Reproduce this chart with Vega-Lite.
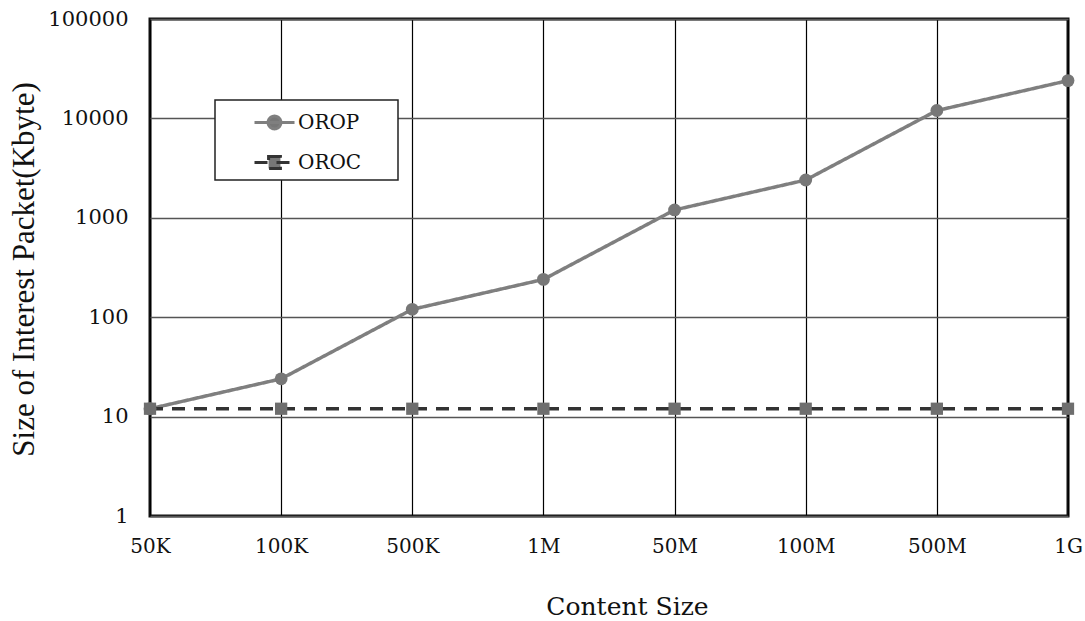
{
  "$schema": "https://vega.github.io/schema/vega-lite/v6.json",
  "width": 918,
  "height": 497,
  "autosize": {"type": "none"},
  "padding": {"left": 150, "top": 19, "right": 17, "bottom": 105},
  "background": "white",
  "config": {
    "view": {"stroke": "#111", "strokeWidth": 3},
    "font": "DejaVu Serif"
  },
  "data": {
    "values": [
      {"size": "50K", "series": "OROP", "kbyte": 12},
      {"size": "100K", "series": "OROP", "kbyte": 24},
      {"size": "500K", "series": "OROP", "kbyte": 120},
      {"size": "1M", "series": "OROP", "kbyte": 240},
      {"size": "50M", "series": "OROP", "kbyte": 1200},
      {"size": "100M", "series": "OROP", "kbyte": 2400},
      {"size": "500M", "series": "OROP", "kbyte": 12000},
      {"size": "1G", "series": "OROP", "kbyte": 24000},
      {"size": "50K", "series": "OROC", "kbyte": 12},
      {"size": "100K", "series": "OROC", "kbyte": 12},
      {"size": "500K", "series": "OROC", "kbyte": 12},
      {"size": "1M", "series": "OROC", "kbyte": 12},
      {"size": "50M", "series": "OROC", "kbyte": 12},
      {"size": "100M", "series": "OROC", "kbyte": 12},
      {"size": "500M", "series": "OROC", "kbyte": 12},
      {"size": "1G", "series": "OROC", "kbyte": 12}
    ]
  },
  "encoding": {
    "x": {
      "field": "size",
      "type": "ordinal",
      "sort": null,
      "scale": {"type": "point", "padding": 0},
      "axis": {
        "title": "Content Size",
        "labelAngle": 0,
        "ticks": false,
        "domain": false,
        "grid": true,
        "gridColor": "#000",
        "gridWidth": 1.2,
        "gridOpacity": 1,
        "labelFont": "DejaVu Serif",
        "labelFontSize": 20,
        "labelColor": "#111",
        "labelPadding": 20,
        "titleFont": "DejaVu Serif",
        "titleFontSize": 25,
        "titleFontWeight": "normal",
        "titleColor": "#111",
        "titleX": 477,
        "titleY": 98,
        "titleBaseline": "alphabetic",
        "titleAlign": "center"
      }
    },
    "y": {
      "field": "kbyte",
      "type": "quantitative",
      "scale": {"type": "log", "domain": [1, 100000], "nice": false},
      "axis": {
        "title": "Size of Interest Packet(Kbyte)",
        "values": [1, 10, 100, 1000, 10000, 100000],
        "format": "d",
        "ticks": false,
        "domain": false,
        "grid": true,
        "gridColor": "#555",
        "gridWidth": 1.5,
        "gridOpacity": 1,
        "labelFont": "DejaVu Serif",
        "labelFontSize": 21,
        "labelColor": "#111",
        "labelPadding": 22,
        "labelBaseline": "middle",
        "titleFont": "Liberation Serif",
        "titleFontSize": 31,
        "titleFontWeight": "normal",
        "titleColor": "#111",
        "titleAngle": 270,
        "titleX": -117,
        "titleY": 250,
        "titleAlign": "center",
        "titleBaseline": "alphabetic"
      }
    }
  },
  "layer": [
    {
      "mark": {"type": "line", "strokeWidth": 3.5},
      "encoding": {
        "color": {
          "field": "series",
          "type": "nominal",
          "sort": ["OROP", "OROC"],
          "scale": {"domain": ["OROP", "OROC"], "range": ["#7f7f7f", "#333333"]},
          "legend": {
            "title": null,
            "orient": "none",
            "legendX": 65,
            "legendY": 81,
            "padding": 5,
            "strokeColor": "#222",
            "fillColor": "white",
            "symbolSize": 1024,
            "symbolOffset": 37,
            "labelOffset": 6,
            "rowPadding": 10,
            "labelFont": "DejaVu Serif",
            "labelFontSize": 20,
            "labelColor": "#111",
            "encode": {
              "legend": {"update": {"strokeWidth": {"value": 1.5}}},
              "symbols": {
                "update": {
                  "shape": {"signal": "datum.value === 'OROP' ? 'M-1.25,0L1.25,0M-0.4,0A0.4,0.4,0,1,1,0.4,0A0.4,0.4,0,1,1,-0.4,0ZM7.0,0' : 'M-1.25,0L1.25,0M-0.37,-0.37L0.37,-0.37L0.37,0.37L-0.37,0.37ZM7.0,0'"},
                  "fill": {"value": "#777777"},
                  "fillOpacity": {"value": 1},
                  "strokeWidth": {"value": 3}
                }
              }
            }
          }
        },
        "strokeDash": {
          "field": "series",
          "type": "nominal",
          "sort": ["OROP", "OROC"],
          "scale": {"domain": ["OROP", "OROC"], "range": [[1, 0], [13, 9]]},
          "legend": null
        }
      }
    },
    {
      "transform": [{"filter": "datum.series === 'OROP'"}],
      "mark": {"type": "point", "shape": "circle", "filled": true, "size": 165, "opacity": 1, "color": "#777777"}
    },
    {
      "transform": [{"filter": "datum.series === 'OROC'"}],
      "mark": {"type": "point", "shape": "square", "filled": true, "size": 150, "opacity": 1, "color": "#6e6e6e"}
    }
  ]
}
